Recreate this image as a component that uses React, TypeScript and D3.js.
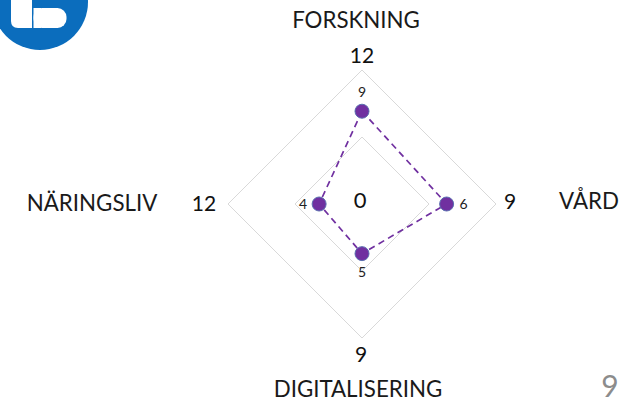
import React from "react"
import * as d3 from "d3"

const width = 628
const height = 404

// spokes, clockwise from the top
const axes = ["FORSKNING", "VÅRD", "DIGITALISERING", "NÄRINGSLIV"]
const values = [9, 6, 5, 4]
const axisMaxLabels = ["12", "9", "9", "12"]
const axisScaleMax = [13, 9.5, 13.5, 12.5]
const gridLevels = [0.5, 1]
const centerLabel = "0"
const pageNumber = "9"

const cx = 362
const cy = 204
const radius = 134
const purple = "#7030a0"
const font = "Lato, 'Open Sans', sans-serif"

export default function App() {
  const angle = d3
    .scaleBand<string>()
    .domain(axes)
    .range([0, 2 * Math.PI])
  const scales = axes.map((a, i) =>
    d3.scaleLinear().domain([0, axisScaleMax[i]]).range([0, radius])
  )

  const ring = d3
    .lineRadial<number>()
    .angle((_, i) => angle(axes[i]) as number)
    .radius(d => d)
    .curve(d3.curveLinearClosed)

  const dataLine = d3
    .lineRadial<number>()
    .angle((_, i) => angle(axes[i]) as number)
    .radius((d, i) => scales[i](d))
    .curve(d3.curveLinearClosed)

  const pt = (i: number, r: number) => {
    const a = angle(axes[i]) as number
    return [Math.sin(a) * r, -Math.cos(a) * r]
  }

  // offsets for value labels and outer tick labels around each spoke
  const valueOffset = [
    [0, -14],
    [17, 5],
    [0, 23],
    [-16, 5],
  ]
  const tickPos = [
    [0, -141],
    [148, 5],
    [-1, 158],
    [-158, 7],
  ]
  const namePos = [
    [-6, -176],
    [227, 5],
    [-4, 193],
    [-270, 7],
  ]

  return (
    <svg
      width={width}
      height={height}
      style={{ position: "absolute", left: 0, top: 0, background: "#fff" }}
    >
      {/* logo */}
      <g>
        <circle cx={40} cy={2} r={48} fill="#0b6dbd" />
        <path d="M11,-5 H32 V28 H18 Q11,28 11,21 Z" fill="#fff" />
        <rect x={33.5} y={8} width={33} height={20} rx={9} fill="#fff" />
        <rect x={33.5} y={8} width={8} height={20} fill="#fff" />
      </g>

      <g transform={`translate(${cx},${cy})`} fontFamily={font}>
        {gridLevels.map(l => (
          <path
            key={l}
            d={ring(axes.map(() => l * radius)) || ""}
            fill="none"
            stroke="#d9d9d9"
            strokeWidth={1}
          />
        ))}

        <path
          d={dataLine(values) || ""}
          fill="none"
          stroke={purple}
          strokeWidth={1.7}
          strokeDasharray="6.5,4.5"
        />
        {values.map((v, i) => {
          const [x, y] = pt(i, scales[i](v))
          return (
            <g key={axes[i]}>
              <circle cx={x} cy={y} r={7} fill={purple} stroke="#5b6fb0" strokeWidth={1} />
              <text
                x={x + valueOffset[i][0]}
                y={y + valueOffset[i][1]}
                fontSize={14}
                textAnchor="middle"
                fill="#222"
              >
                {v}
              </text>
            </g>
          )
        })}

        <text x={-2} y={4} fontSize={22} textAnchor="middle" fill="#111">
          {centerLabel}
        </text>

        {axisMaxLabels.map((t, i) => (
          <text
            key={i}
            x={tickPos[i][0]}
            y={tickPos[i][1]}
            fontSize={21}
            textAnchor="middle"
            fill="#111"
          >
            {t}
          </text>
        ))}

        {axes.map((a, i) => (
          <text
            key={a}
            x={namePos[i][0]}
            y={namePos[i][1]}
            fontSize={22.3}
            textAnchor="middle"
            fill="#1a1a1a"
          >
            {a}
          </text>
        ))}
      </g>

      <text x={610} y={397} fontSize={30} textAnchor="middle" fill="#8c8c8c" fontFamily={font}>
        {pageNumber}
      </text>
    </svg>
  )
}
